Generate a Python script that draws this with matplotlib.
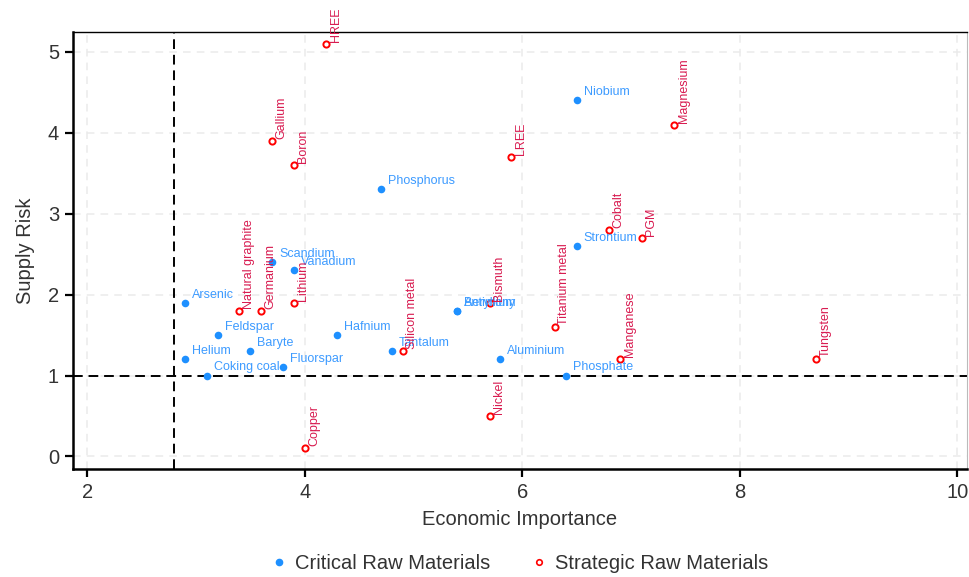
import matplotlib
matplotlib.use("Agg")
import matplotlib.pyplot as plt
from matplotlib.lines import Line2D

plt.rcParams['font.family'] = ['Liberation Sans', 'DejaVu Sans']

# critical raw materials
crm_names = ["Niobium", "Phosphorus", "Strontium", "Scandium", "Vanadium", "Arsenic",
             "Beryllium", "Antimony", "Feldspar", "Hafnium", "Baryte", "Tantalum",
             "Aluminium", "Helium", "Fluorspar", "Coking coal", "Phosphate"]
crm_ei = [6.5, 4.7, 6.5, 3.7, 3.9, 2.9, 5.4, 5.4, 3.2, 4.3, 3.5, 4.8, 5.8, 2.9, 3.8, 3.1, 6.4]
crm_sr = [4.4, 3.3, 2.6, 2.4, 2.3, 1.9, 1.8, 1.8, 1.5, 1.5, 1.3, 1.3, 1.2, 1.2, 1.1, 1.0, 1.0]

# strategic raw materials
srm_names = ["HREE", "Magnesium", "Gallium", "Boron", "LREE", "Cobalt", "PGM",
             "Natural graphite", "Germanium", "Lithium", "Bismuth", "Silicon metal",
             "Titanium metal", "Manganese", "Tungsten", "Nickel", "Copper"]
srm_ei = [4.2, 7.4, 3.7, 3.9, 5.9, 6.8, 7.1, 3.4, 3.6, 3.9, 5.7, 4.9, 6.3, 6.9, 8.7, 5.7, 4.0]
srm_sr = [5.1, 4.1, 3.9, 3.6, 3.7, 2.8, 2.7, 1.8, 1.8, 1.9, 1.9, 1.3, 1.6, 1.2, 1.2, 0.5, 0.1]

ei_threshold = 2.8
sr_threshold = 1.0

blue = "#1E90FF"
red = "#FF0000"
blue_txt = "#3D9BFF"
red_txt = "#D81B50"

fig = plt.figure(figsize=(9.69, 5.77), dpi=100)
ax = fig.add_axes([0.0753, 0.187, 0.9227, 0.758])

ax.grid(True, color="#EBEBEB", linestyle=(0, (5, 4)), linewidth=1.1)
ax.set_axisbelow(True)

ax.axvline(ei_threshold, color="black", linestyle=(0, (5, 3)), linewidth=1.4, zorder=2)
ax.axhline(sr_threshold, color="black", linestyle=(0, (5, 3)), linewidth=1.4, zorder=2)

ax.scatter(crm_ei, crm_sr, s=30, color=blue, zorder=3, linewidths=0)
ax.scatter(srm_ei, srm_sr, s=20, facecolors="white", edgecolors=red, linewidths=1.4, zorder=3)

for n, x, y in zip(crm_names, crm_ei, crm_sr):
    ax.annotate(n, (x, y), xytext=(5, 1.5), textcoords="offset points",
                ha="left", va="bottom", color=blue_txt, fontsize=9, zorder=4)

for n, x, y in zip(srm_names, srm_ei, srm_sr):
    ax.annotate(n, (x, y), xytext=(2.5, 1.5), textcoords="offset points",
                ha="left", va="bottom", rotation=90, color=red_txt, fontsize=9, zorder=4,
                annotation_clip=False)

ax.set_xlim(1.87, 10.09)
ax.set_ylim(-0.157, 5.25)
ax.set_xticks([2, 4, 6, 8, 10])
ax.set_yticks([0, 1, 2, 3, 4, 5])

for s in ["left", "bottom"]:
    ax.spines[s].set_linewidth(1.8)
    ax.spines[s].set_color("black")
ax.spines["top"].set_linewidth(1.0)
ax.spines["top"].set_color("black")
ax.spines["right"].set_linewidth(0.8)
ax.spines["right"].set_color("#BBBBBB")

ax.tick_params(axis="both", direction="out", length=6, width=1.6, color="black",
               labelsize=14.5, labelcolor="#333333", pad=4)

ax.set_xlabel("Economic Importance", fontsize=14.5, color="#333333", labelpad=6)
ax.set_ylabel("Supply Risk", fontsize=14.5, color="#333333", labelpad=9)

handles = [
    Line2D([], [], marker="o", linestyle="none", markersize=4.5, markerfacecolor=blue,
           markeredgecolor=blue, label="Critical Raw Materials"),
    Line2D([], [], marker="o", linestyle="none", markersize=4, markerfacecolor="white",
           markeredgecolor=red, markeredgewidth=1.2, label="Strategic Raw Materials"),
]
leg = fig.legend(handles=handles, loc="center", bbox_to_anchor=(0.535, 0.023), ncol=2,
                 frameon=False, fontsize=14.5, handletextpad=0.3, columnspacing=1.9,
                 handlelength=1.0)
for t in leg.get_texts():
    t.set_color("#333333")

fig.savefig("out.png", dpi=100)
